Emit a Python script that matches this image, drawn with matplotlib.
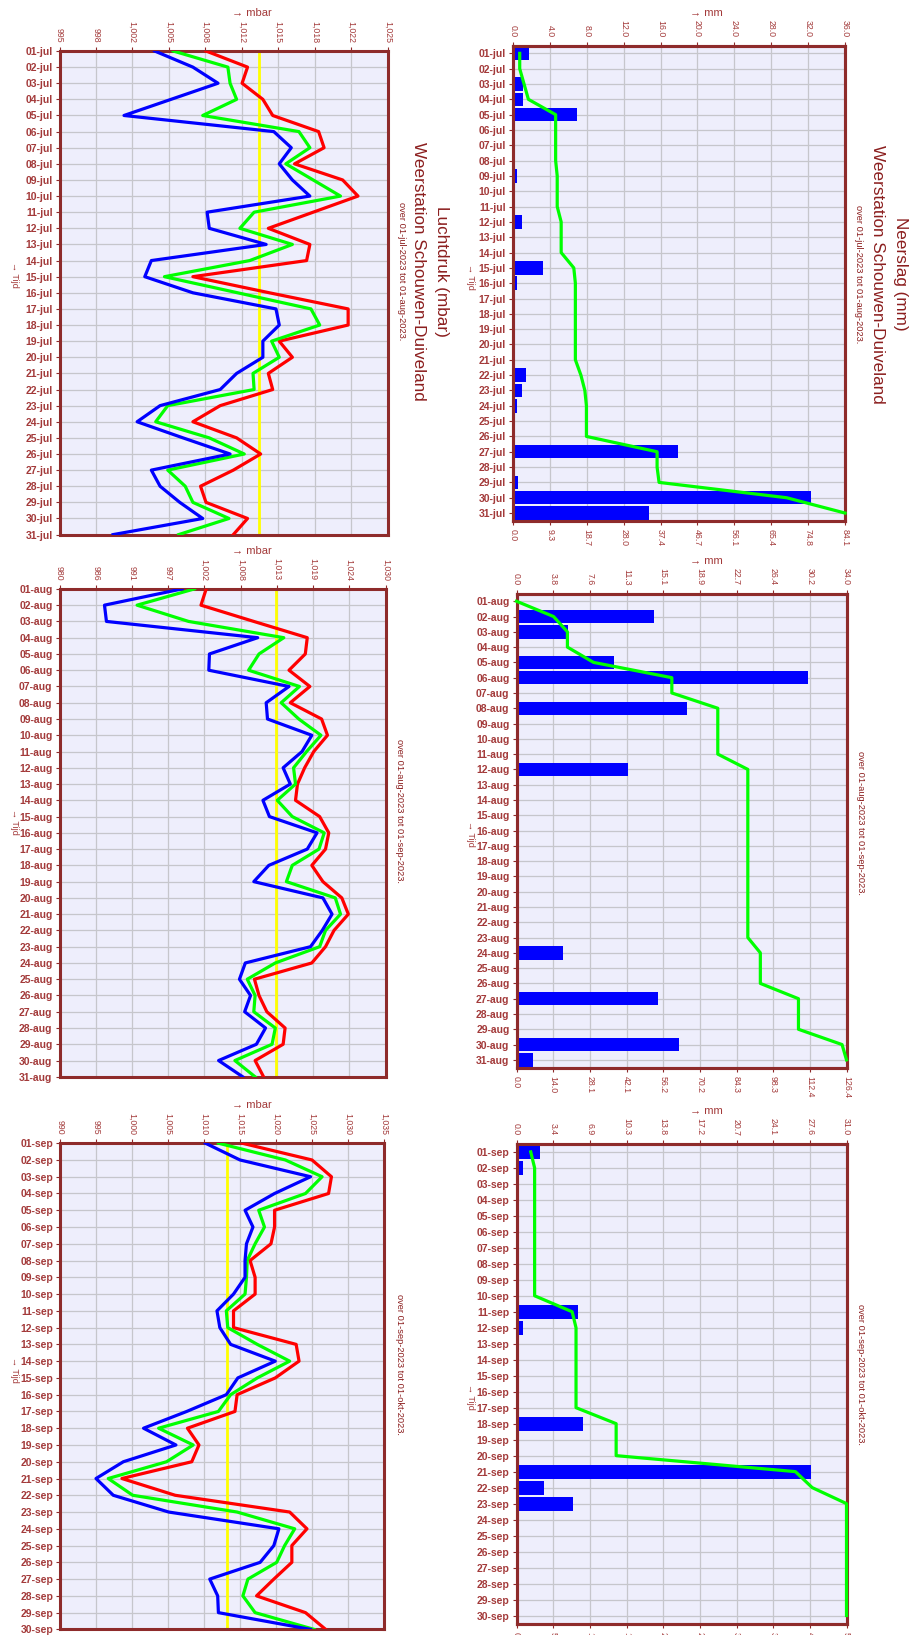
import numpy as np
import matplotlib
matplotlib.use("Agg")
import matplotlib.pyplot as plt

plt.rcParams['font.family'] = ['Liberation Sans', 'DejaVu Sans']

W, H = 913, 1635

months = ["jul", "aug", "sep"]
n_days = [31, 31, 30]
periods = ["over 01-jul-2023 tot 01-aug-2023.",
           "over 01-aug-2023 tot 01-sep-2023.",
           "over 01-sep-2023 tot 01-okt-2023."]

# luchtdruk per dag (mbar): maximum, gemiddeld, minimum
p_max_jul = [1008.4, 1012.2, 1011.7, 1013.6, 1014.5, 1018.7, 1019.2, 1016.5, 1020.9, 1022.3,
             1018.2, 1014.1, 1017.9, 1017.6, 1007.2, 1014.2, 1021.4, 1021.4, 1015.1, 1016.3,
             1014.1, 1014.5, 1009.7, 1007.2, 1011.2, 1013.4, 1010.9, 1007.9, 1008.4, 1012.2, 1010.9]
p_avg_jul = [1005.4, 1010.4, 1010.6, 1011.2, 1008.1, 1016.9, 1017.9, 1015.7, 1018.2, 1020.7,
             1012.8, 1011.5, 1016.3, 1012.4, 1004.6, 1011.3, 1018.0, 1018.8, 1014.4, 1015.1,
             1012.7, 1012.8, 1004.9, 1003.8, 1008.7, 1011.9, 1004.9, 1006.5, 1007.2, 1010.5, 1005.9]
p_min_jul = [1003.7, 1007.2, 1009.5, 1005.2, 1000.9, 1014.6, 1016.2, 1015.1, 1016.3, 1017.9,
             1008.5, 1008.7, 1013.9, 1003.4, 1002.8, 1007.2, 1014.8, 1015.1, 1013.6, 1013.6,
             1011.2, 1009.7, 1004.2, 1002.1, 1006.3, 1010.6, 1003.4, 1004.2, 1006.0, 1008.1, 999.9]

p_max_aug = [1002.5, 1001.7, 1009.8, 1018.0, 1017.7, 1015.2, 1018.4, 1015.4, 1020.2, 1021.1,
             1019.0, 1017.6, 1016.5, 1016.2, 1019.9, 1021.3, 1020.8, 1018.7, 1020.4, 1023.3,
             1024.3, 1022.1, 1020.8, 1018.7, 1009.9, 1010.6, 1011.8, 1014.6, 1014.3, 1010.0, 1011.3]
p_avg_aug = [1000.7, 991.9, 999.8, 1014.4, 1010.6, 1009.0, 1016.8, 1014.0, 1016.7, 1020.1,
             1017.9, 1015.9, 1016.2, 1013.4, 1015.7, 1020.6, 1019.8, 1015.7, 1014.8, 1022.3,
             1023.1, 1020.8, 1019.9, 1013.1, 1008.8, 1010.0, 1009.8, 1013.1, 1012.6, 1006.9, 1010.0]
p_min_aug = [998.8, 986.9, 987.2, 1010.4, 1003.0, 1002.9, 1015.2, 1011.7, 1011.9, 1018.7,
             1017.2, 1014.3, 1015.4, 1011.2, 1012.2, 1019.5, 1018.0, 1012.1, 1009.8, 1020.4,
             1021.8, 1020.3, 1018.5, 1008.5, 1007.6, 1009.3, 1008.4, 1011.6, 1010.2, 1004.4, 1008.1]

p_max_sep = [1015.3, 1025.0, 1027.7, 1027.3, 1019.8, 1019.8, 1019.3, 1016.4, 1017.1, 1017.1,
             1014.1, 1014.1, 1022.8, 1023.2, 1019.9, 1014.6, 1014.3, 1007.7, 1009.3, 1008.3,
             998.6, 1006.0, 1021.9, 1024.3, 1022.2, 1022.2, 1019.7, 1017.3, 1024.1, 1026.9]
p_avg_sep = [1012.0, 1021.3, 1026.4, 1024.1, 1017.6, 1018.4, 1017.1, 1016.0, 1015.9, 1015.7,
             1013.1, 1013.3, 1017.4, 1021.9, 1017.4, 1013.7, 1012.0, 1003.7, 1008.5, 1004.8,
             996.7, 1000.1, 1014.6, 1022.6, 1021.2, 1020.1, 1016.1, 1015.4, 1017.1, 1025.3]
p_min_sep = [1010.2, 1015.0, 1024.8, 1019.8, 1015.7, 1016.8, 1015.9, 1015.7, 1015.7, 1014.1,
             1011.8, 1012.2, 1013.7, 1019.9, 1014.7, 1013.1, 1007.6, 1001.6, 1006.1, 998.8,
             995.0, 997.4, 1005.1, 1020.4, 1019.7, 1017.8, 1010.8, 1011.9, 1012.0, 1024.8]

p_max = [p_max_jul, p_max_aug, p_max_sep]
p_avg = [p_avg_jul, p_avg_aug, p_avg_sep]
p_min = [p_min_jul, p_min_aug, p_min_sep]
p_limits = [(995, 1025), (980, 1030), (990, 1035)]
p_normal = 1013.25

# neerslag per dag (mm)
rain_jul = [1.7, 0.0, 1.1, 1.1, 6.9, 0.0, 0.0, 0.0, 0.4, 0.0, 0.0, 1.0, 0.0, 0.0, 3.2, 0.4,
            0.0, 0.0, 0.0, 0.0, 0.0, 1.4, 1.0, 0.4, 0.0, 0.0, 17.9, 0.0, 0.5, 32.3, 14.8]
rain_aug = [0.0, 14.2, 5.3, 0.0, 10.0, 30.0, 0.0, 17.6, 0.0, 0.0, 0.0, 11.5, 0.0, 0.0, 0.0, 0.0,
            0.0, 0.0, 0.0, 0.0, 0.0, 0.0, 0.0, 4.8, 0.0, 0.0, 14.6, 0.0, 0.0, 16.7, 1.7]
rain_sep = [2.2, 0.6, 0.0, 0.0, 0.0, 0.0, 0.0, 0.0, 0.0, 0.0, 5.8, 0.6, 0.0, 0.0, 0.0,
            0.0, 0.0, 6.2, 0.0, 0.0, 27.7, 2.6, 5.3, 0.0, 0.0, 0.0, 0.0, 0.0, 0.0, 0.0]
rain = [rain_jul, rain_aug, rain_sep]
rain_top = [36.0, 34.0, 31.0]

# kleuren
BG = '#EEEEFC'
FRAME = '#8E2B2B'
TXT = '#A33A3A'
TITLE = '#8B1E1E'
GRID = '#C6C6CC'

# plekken van de grafieken in pixels (links, boven, rechts, onder)
p_boxes = [(59.5, 51.0, 387.5, 534.6), (59.5, 588.9, 385.5, 1076.8), (60.0, 1143.2, 384.0, 1629.4)]
r_boxes = [(513.0, 45.7, 845.0, 520.7), (516.5, 593.6, 846.5, 1067.5), (516.5, 1143.9, 846.5, 1623.5)]


def box(b):
    x0, y0, x1, y1 = b
    return [x0 / W, 1 - y1 / H, (x1 - x0) / W, (y1 - y0) / H]


def ftext(x, y, s, **kw):
    fig.text(x / W, 1 - y / H, s, ha='center', va='center', **kw)


def frame(ax):
    for sp in ax.spines.values():
        sp.set_color(FRAME)
        sp.set_linewidth(2.2)


def style(ax):
    ax.set_facecolor(BG)
    frame(ax)
    ax.tick_params(axis='both', colors=FRAME, labelcolor=TXT, length=3, width=0.8)
    ax.tick_params(axis='y', labelsize=7.5, pad=2)
    ax.tick_params(axis='x', labelsize=6.3, labelrotation=-90, pad=3)
    ax.grid(True, color=GRID, linewidth=0.9)
    ax.set_axisbelow(True)


def day_labels(ax, days, labels):
    ax.set_yticks(days)
    ax.set_yticklabels(labels, fontweight='bold')


fig = plt.figure(figsize=(W / 100, H / 100), dpi=100)

for m in range(3):
    n = n_days[m]
    days = np.arange(n)
    labels = ["%02d-%s" % (d + 1, months[m]) for d in days]

    # luchtdruk
    ax = fig.add_axes(box(p_boxes[m]))
    style(ax)
    lo, hi = p_limits[m]
    ax.axvline(p_normal, color='#FFFF00', linewidth=2.0, zorder=2)
    ax.plot(p_max[m], days, color='#FF0000', linewidth=2.3, zorder=3)
    ax.plot(p_avg[m], days, color='#00FF00', linewidth=2.3, zorder=4)
    ax.plot(p_min[m], days, color='#0000FF', linewidth=2.3, zorder=5)
    ticks = np.linspace(lo, hi, 10)
    ax.set_xticks(ticks)
    ax.set_xticklabels(["{:,.0f}".format(t) for t in ticks])
    ax.xaxis.tick_top()
    ax.set_xlim(lo, hi)
    day_labels(ax, days, labels)
    ax.set_ylim(n - 1, 0)

    # neerslag: staven per dag, lijn met het totaal
    ar = fig.add_axes(box(r_boxes[m]))
    tw = ar.twiny()
    style(ar)
    ar.barh(days, rain[m], height=0.88, color='#0000FF', zorder=3)
    ticks = np.linspace(0, rain_top[m], 10)
    ar.set_xticks(ticks)
    ar.set_xticklabels(["%.1f" % t for t in ticks])
    ar.xaxis.tick_top()
    ar.set_xlim(0, rain_top[m])
    day_labels(ar, days, labels)
    ar.set_ylim(n - 0.5, -0.5)

    total = round(sum(rain[m]), 1)
    tw.plot(np.cumsum(rain[m]), days, color='#00FF00', linewidth=2.3, zorder=4, clip_on=False)
    tw.set_xlim(0, total)
    cticks = np.linspace(0, total, 10)
    tw.set_xticks(cticks)
    tw.set_xticklabels(["%.1f" % t for t in cticks])
    tw.xaxis.tick_bottom()
    frame(tw)
    tw.tick_params(axis='x', colors=FRAME, labelcolor=TXT, length=3, width=0.8,
                   labelsize=6.3, labelrotation=-90, pad=3)
    tw.set_ylim(n - 0.5, -0.5)

# as-labels
for y in [13.0, 551.0, 1105.0]:
    ftext(252, y, "\u2192 mbar", color=TXT, fontsize=8)
for y in [13.0, 561.0, 1111.0]:
    ftext(706, y, "\u2192 mm", color=TXT, fontsize=8)
for y in [275.0, 822.0, 1370.0]:
    ftext(14, y, "\u2192 Tijd", color=TXT, fontsize=6.5, rotation=-90)
for y in [277.0, 834.0, 1397.0]:
    ftext(470, y, "\u2192 Tijd", color=TXT, fontsize=6.5, rotation=-90)

# titels
ftext(441, 271, "Luchtdruk (mbar)", color=TITLE, fontsize=12.3, rotation=-90)
ftext(418, 271, "Weerstation Schouwen-Duiveland", color=TITLE, fontsize=12.3, rotation=-90)
ftext(401, 271, periods[0], color=TITLE, fontsize=6.7, rotation=-90)
ftext(900, 274, "Neerslag (mm)", color=TITLE, fontsize=12.3, rotation=-90)
ftext(877, 274, "Weerstation Schouwen-Duiveland", color=TITLE, fontsize=12.3, rotation=-90)
ftext(858, 274, periods[0], color=TITLE, fontsize=6.7, rotation=-90)
ftext(399, 811, periods[1], color=TITLE, fontsize=6.7, rotation=-90)
ftext(860, 823, periods[1], color=TITLE, fontsize=6.7, rotation=-90)
ftext(399, 1364, periods[2], color=TITLE, fontsize=6.7, rotation=-90)
ftext(860, 1374, periods[2], color=TITLE, fontsize=6.7, rotation=-90)

fig.savefig("out.png", dpi=100, facecolor='white')
